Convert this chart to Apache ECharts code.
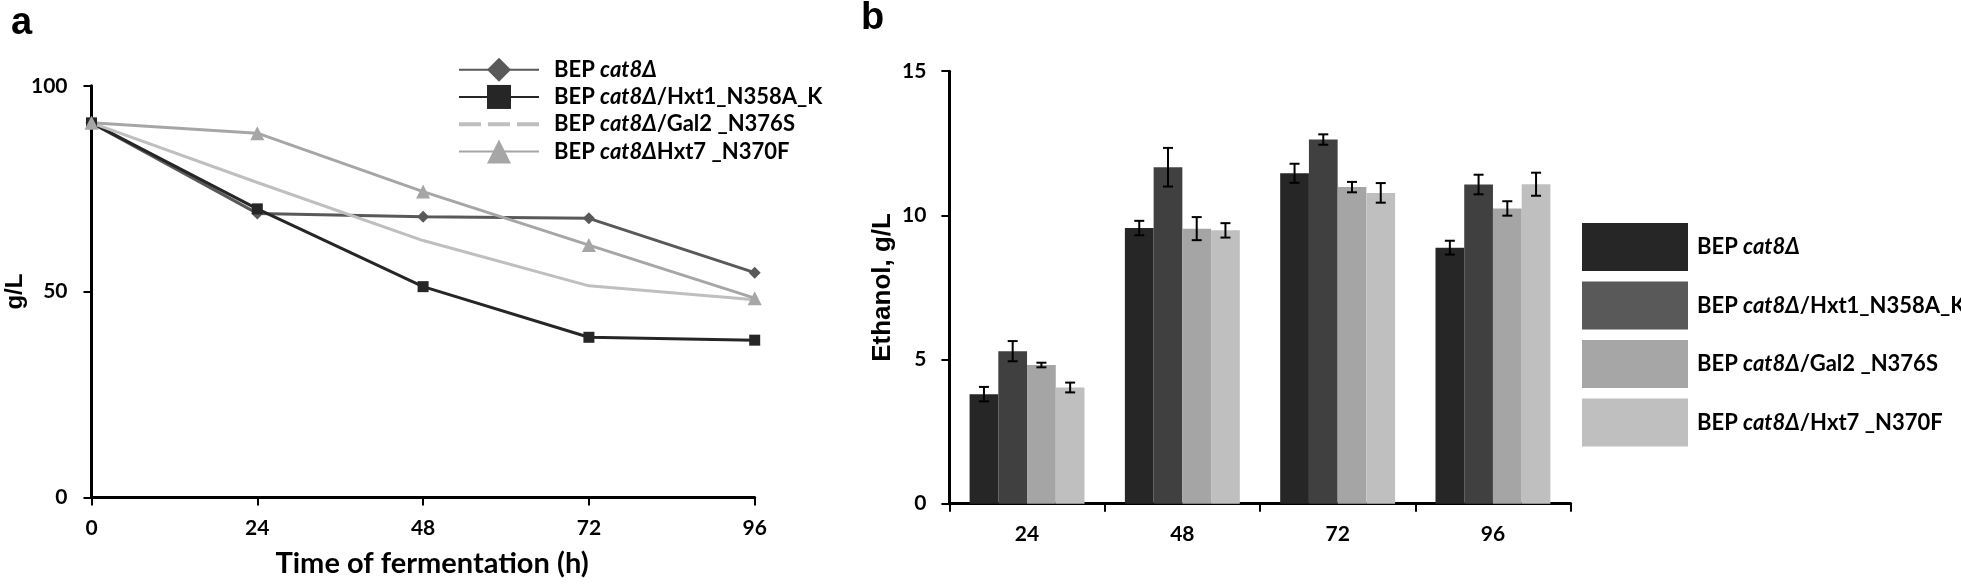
<!DOCTYPE html>
<html><head><meta charset="utf-8">
<script src="https://cdn.jsdelivr.net/npm/echarts@6/dist/echarts.min.js"></script>
<style>html,body{margin:0;padding:0;background:#fff}#c{width:1961px;height:587px}</style>
</head><body><div id="c"></div>
<script>
// ---- Panel a: residual sugar (g/L) over fermentation time ----
const timePoints = [0, 24, 48, 72, 96];
const xTicksA = [0, 24, 48, 72, 96];
const yTicksA = [0, 50, 100];
const lineNames = ['BEP cat8Δ', 'BEP cat8Δ/Hxt1_N358A_K', 'BEP cat8Δ/Gal2 _N376S', 'BEP cat8ΔHxt7 _N370F'];
const sugarCat8 = [91, 69.0, 68.2, 67.8, 54.6];
const sugarHxt1 = [91, 70.1, 51.2, 38.9, 38.2];
const sugarGal2 = [91, 76.5, 62.4, 51.4, 48.0];
const sugarHxt7 = [91, 88.5, 74.3, 61.3, 48.4];

// ---- Panel b: ethanol (g/L) ----
const barCategories = ['24', '48', '72', '96'];
const yTicksB = [0, 5, 10, 15];
const barNames = ['BEP cat8Δ', 'BEP cat8Δ/Hxt1_N358A_K', 'BEP cat8Δ/Gal2 _N376S', 'BEP cat8Δ/Hxt7 _N370F'];
const ethanolCat8 = [3.80, 9.56, 11.46, 8.88];
const ethanolHxt1 = [5.29, 11.67, 12.63, 11.07];
const ethanolGal2 = [4.81, 9.54, 10.98, 10.24];
const ethanolHxt7 = [4.03, 9.48, 10.78, 11.08];
const errCat8 = [0.25, 0.25, 0.33, 0.24];
const errHxt1 = [0.35, 0.67, 0.18, 0.34];
const errGal2 = [0.08, 0.40, 0.18, 0.25];
const errHxt7 = [0.17, 0.25, 0.34, 0.40];

const lineColors = ['#595959', '#262626', '#bfbfbf', '#a6a6a6'];
const barColors = ['#262626', '#404040', '#a5a5a5', '#bfbfbf'];
const barLegendColors = ['#262626', '#595959', '#a6a6a6', '#bfbfbf'];

const CAT_GAP = 0.26;
const TICK_FONT = 'Lato';
const TITLE_FONT = 'Liberation Sans';

const chart = echarts.init(document.getElementById('c'), null, {renderer: 'canvas'});

function pairs(xs, ys) { return xs.map((x, i) => [x, ys[i]]); }

const axisLine = {show: true, onZero: false, lineStyle: {color: '#000', width: 3}};
const axisTick = {show: true, length: 8, lineStyle: {color: '#000', width: 2}};
const tickLabel = (m) => ({fontFamily: TICK_FONT, fontWeight: 'bold', fontSize: 21, color: '#000', margin: m});

function errSeries(k, vals, errs) {
  return {
    type: 'custom', xAxisIndex: 1, yAxisIndex: 1, z: 5, silent: true,
    data: vals.map((v, i) => [i, v, errs[i]]),
    dimensions: ['c', 'v', 'e'],
    encode: {x: 0, y: 1},
    renderItem: function (params, api) {
      const i = api.value(0), v = api.value(1), e = api.value(2);
      const band = api.size([1, 0])[0];
      const groupW = band * (1 - CAT_GAP);
      const bw = groupW / 4;
      const c = api.coord([i, v]);
      const x = c[0] - groupW / 2 + bw * (k + 0.5);
      const top = api.coord([i, v + e])[1];
      const bot = api.coord([i, v - e])[1];
      const cw = 5;
      const st = {stroke: '#000', lineWidth: 2};
      return {type: 'group', children: [
        {type: 'line', shape: {x1: x, y1: top, x2: x, y2: bot}, style: st},
        {type: 'line', shape: {x1: x - cw, y1: top, x2: x + cw, y2: top}, style: st},
        {type: 'line', shape: {x1: x - cw, y1: bot, x2: x + cw, y2: bot}, style: st}
      ]};
    }
  };
}

const legendText = (lh) => ({
  fontFamily: TICK_FONT, fontWeight: 'bold', fontSize: 22, color: '#000', lineHeight: lh,
  rich: {i: {fontFamily: TICK_FONT, fontWeight: 'bold', fontStyle: 'italic', fontSize: 22, color: '#000', lineHeight: lh}}
});
const fmt = (n) => n.replace('cat8Δ', '{i|cat8Δ}');

const option = {
  animation: false,
  backgroundColor: '#fff',
  graphic: [
    {type: 'text', left: 11, top: 5, style: {text: 'a', font: 'bold 38px "Liberation Sans"', fill: '#000'}},
    {type: 'text', left: 861, top: 0, style: {text: 'b', font: 'bold 38px "Liberation Sans"', fill: '#000'}}
  ],
  legend: [
    {
      orient: 'vertical', left: 453, top: 51, itemWidth: 80, itemHeight: 30, itemGap: 0,
      selectedMode: false,
      data: [
        {name: lineNames[0]},
        {name: lineNames[1]},
        {name: lineNames[2], icon: 'path://M0,0h22v4h-22z M29,0h22v4h-22z M58,0h22v4h-22z'},
        {name: lineNames[3]}
      ],
      formatter: fmt,
      textStyle: Object.assign({padding: [0, 0, 0, 10]}, legendText(27.3))
    },
    {
      orient: 'vertical', left: 1577, top: 218, itemWidth: 106, itemHeight: 48, itemGap: 10.5,
      selectedMode: false,
      data: barNames.map((n, k) => ({name: n, icon: 'rect', itemStyle: {color: barLegendColors[k], borderWidth: 0}})),
      formatter: fmt,
      textStyle: Object.assign({padding: [0, 0, 0, 4]}, legendText(26))
    }
  ],
  grid: [
    {left: 91.5, top: 85.8, width: 663.2, height: 411.6},
    {left: 949.4, top: 71.2, width: 621.2, height: 432.5}
  ],
  xAxis: [
    {
      type: 'value', gridIndex: 0, min: xTicksA[0], max: xTicksA[xTicksA.length - 1], interval: 24,
      axisLine, axisTick, splitLine: {show: false},
      axisLabel: tickLabel(20),
      name: 'Time of fermentation (h)', nameLocation: 'middle', nameGap: 52,
      nameTextStyle: {fontFamily: TICK_FONT, fontWeight: 'bold', fontSize: 29, color: '#000', padding: [0, 0, 0, 18]}
    },
    {
      type: 'category', gridIndex: 1, data: barCategories,
      boundaryGap: true,
      axisLine, axisTick, splitLine: {show: false},
      axisLabel: tickLabel(20)
    }
  ],
  yAxis: [
    {
      type: 'value', gridIndex: 0, min: yTicksA[0], max: yTicksA[yTicksA.length - 1], interval: 50,
      axisLine, axisTick, splitLine: {show: false},
      axisLabel: tickLabel(24),
      name: 'g/L', nameLocation: 'middle', nameGap: 61, nameRotate: 90,
      nameTextStyle: {fontFamily: TITLE_FONT, fontWeight: 'bold', fontSize: 24, color: '#000'}
    },
    {
      type: 'value', gridIndex: 1, min: yTicksB[0], max: yTicksB[yTicksB.length - 1], interval: 5,
      axisLine, axisTick, splitLine: {show: false},
      axisLabel: tickLabel(23),
      name: 'Ethanol, g/L', nameLocation: 'middle', nameGap: 54, nameRotate: 90,
      nameTextStyle: {fontFamily: TITLE_FONT, fontWeight: 'bold', fontSize: 26, color: '#000'}
    }
  ],
  series: [
    {name: lineNames[0], type: 'line', xAxisIndex: 0, yAxisIndex: 0, data: pairs(timePoints, sugarCat8),
     symbol: 'diamond', symbolSize: 12, color: lineColors[0], lineStyle: {width: 3, color: lineColors[0]}, itemStyle: {color: lineColors[0], borderWidth: 0}},
    {name: lineNames[1], type: 'line', xAxisIndex: 0, yAxisIndex: 0, data: pairs(timePoints, sugarHxt1),
     symbol: 'rect', symbolSize: 11, color: lineColors[1], lineStyle: {width: 3, color: lineColors[1]}, itemStyle: {color: lineColors[1], borderWidth: 0}},
    {name: lineNames[2], type: 'line', xAxisIndex: 0, yAxisIndex: 0, data: pairs(timePoints, sugarGal2),
     symbol: 'none', color: lineColors[2], lineStyle: {width: 3, color: lineColors[2]}, itemStyle: {color: lineColors[2], borderWidth: 0}},
    {name: lineNames[3], type: 'line', xAxisIndex: 0, yAxisIndex: 0, data: pairs(timePoints, sugarHxt7),
     symbol: 'triangle', symbolSize: 14, color: lineColors[3], lineStyle: {width: 3, color: lineColors[3]}, itemStyle: {color: lineColors[3], borderWidth: 0}},

    {name: barNames[0], type: 'bar', xAxisIndex: 1, yAxisIndex: 1, data: ethanolCat8, barGap: '0%', barCategoryGap: (CAT_GAP * 100) + '%', itemStyle: {color: barColors[0]}},
    {name: barNames[1], type: 'bar', xAxisIndex: 1, yAxisIndex: 1, data: ethanolHxt1, barGap: '0%', barCategoryGap: (CAT_GAP * 100) + '%', itemStyle: {color: barColors[1]}},
    {name: barNames[2], type: 'bar', xAxisIndex: 1, yAxisIndex: 1, data: ethanolGal2, barGap: '0%', barCategoryGap: (CAT_GAP * 100) + '%', itemStyle: {color: barColors[2]}},
    {name: barNames[3], type: 'bar', xAxisIndex: 1, yAxisIndex: 1, data: ethanolHxt7, barGap: '0%', barCategoryGap: (CAT_GAP * 100) + '%', itemStyle: {color: barColors[3]}},

    errSeries(0, ethanolCat8, errCat8),
    errSeries(1, ethanolHxt1, errHxt1),
    errSeries(2, ethanolGal2, errGal2),
    errSeries(3, ethanolHxt7, errHxt7)
  ]
};
chart.setOption(option);
</script>
</body></html>
